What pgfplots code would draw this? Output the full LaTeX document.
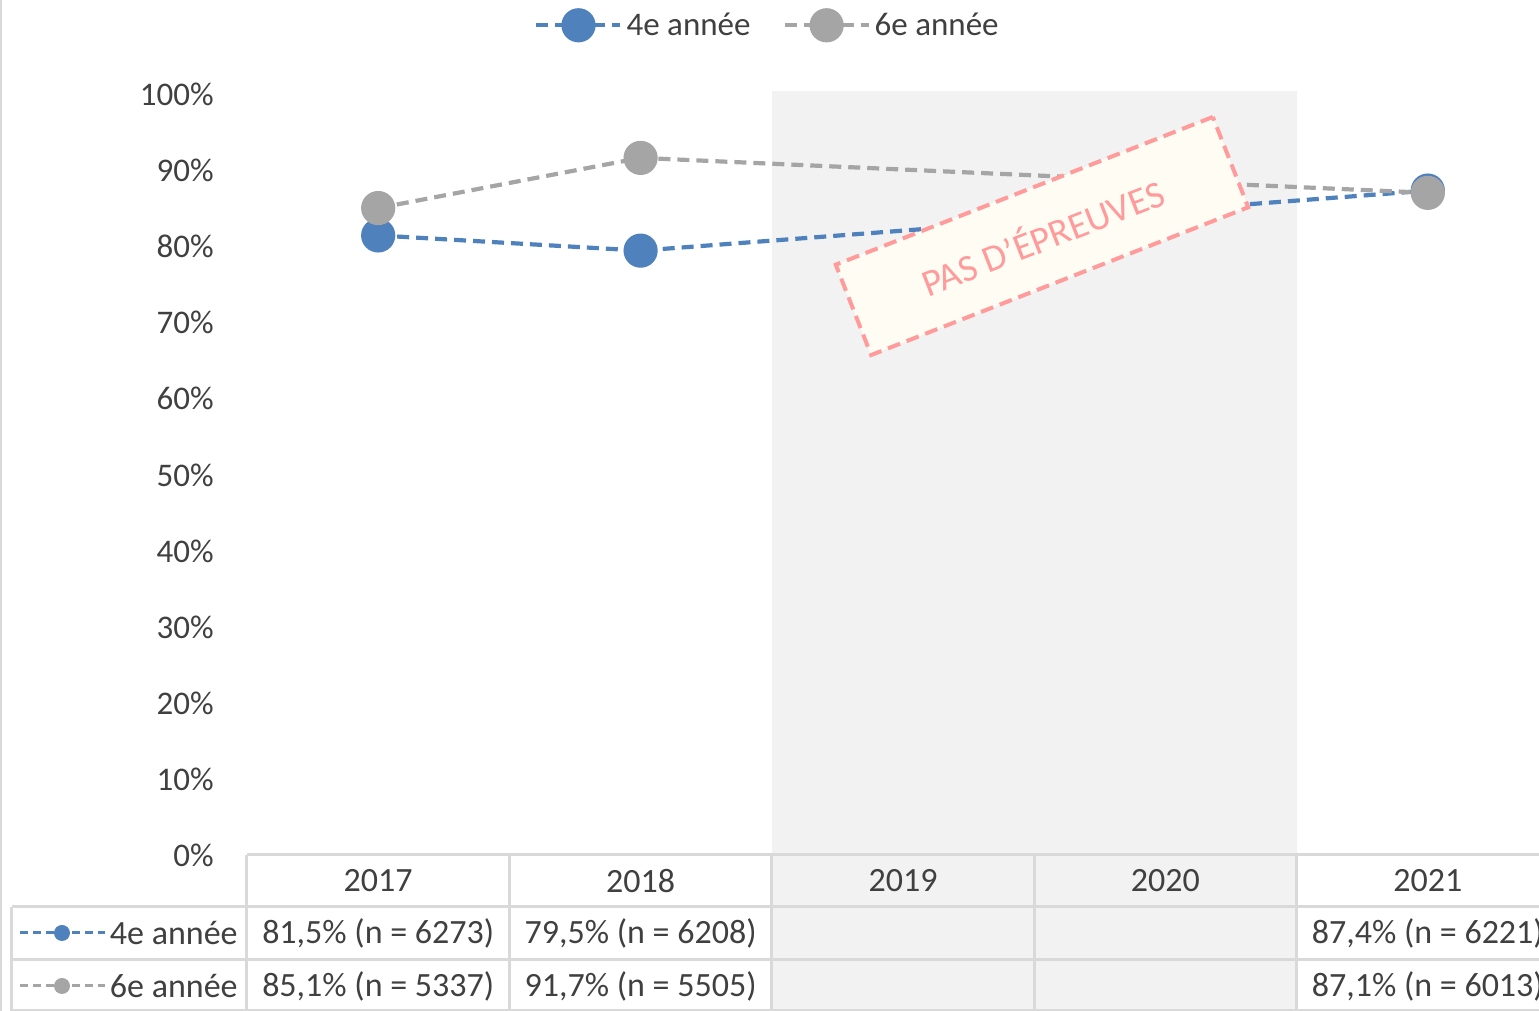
\documentclass[border=0pt]{standalone}
\usepackage{fontspec}
\setmainfont{Carlito}
\usepackage{pgfplots}
\pgfplotsset{compat=1.18}
\definecolor{bleu}{HTML}{4F81BD}
\definecolor{gris}{HTML}{A5A5A5}
\definecolor{grille}{HTML}{D9D9D9}
\definecolor{bande}{HTML}{F2F2F2}
\definecolor{rose}{HTML}{FF9B9B}
\definecolor{ivoire}{HTML}{FFFCF4}
\definecolor{texte}{HTML}{404040}

\begin{document}
\begin{tikzpicture}[font=\fontsize{16.5}{19}\selectfont]
\useasboundingbox (-123.5pt,-78pt) rectangle (646pt,427.5pt);
% bande grise 2019-2020
\fill[bande] (262.4pt,-78pt) rectangle (524.8pt,382pt);
\draw[grille, line width=0.8pt] (-123.1pt,-78pt) -- (-123.1pt,427.5pt);
\begin{axis}[
  at={(0,0)}, anchor=south west,
  scale only axis, width=656pt, height=382pt,
  xmin=-0.5, xmax=4.5, ymin=0, ymax=100.5,
  axis line style={draw=none},
  xtick=\empty,
  ytick={0,10,...,100},
  yticklabels={0\%,10\%,20\%,30\%,40\%,50\%,60\%,70\%,80\%,90\%,100\%},
  yticklabel style={anchor=east, inner sep=0pt, xshift=-16.5pt, text=texte,
    font=\fontsize{16.5}{19}\selectfont},
  major tick length=0pt,
  clip=false,
  legend columns=2,
  legend style={at={(0.3975,1.086)}, anchor=center, draw=none, fill=none,
    font=\fontsize{16.5}{19}\selectfont, text=texte,
    /tikz/every even column/.append style={column sep=14pt}},
  legend cell align=left,
  legend image code/.code={\draw[#1, mark repeat=2, mark phase=2]
    plot coordinates {(0pt,0pt)(21pt,0pt)(42pt,0pt)};},
]
\addplot[bleu, line width=2.1pt, dash pattern=on 6pt off 3.5pt,
  mark=*, mark size=7.5pt, mark options={solid, fill=bleu, draw=bleu}]
  coordinates {(0,81.5)(1,79.5)(4,87.4)};
\addlegendentry{4e année}
\addplot[gris, line width=2.1pt, dash pattern=on 6pt off 3.5pt,
  mark=*, mark size=7.5pt, mark options={solid, fill=gris, draw=gris}]
  coordinates {(0,85.1)(1,91.7)(4,87.1)};
\addlegendentry{6e année}
\end{axis}

% tampon
\node[rotate=21.4, draw=rose, fill=ivoire, line width=2pt,
  dash pattern=on 6.5pt off 3.5pt, minimum width=202.5pt, minimum height=48.5pt,
  text=rose, font=\fontsize{19}{22}\selectfont] at (397.5pt,309.5pt) {PAS D’ÉPREUVES};

% tableau de données
\begin{scope}[grille, line width=1.5pt]
  \draw (0pt,0pt) -- (670pt,0pt);
  \draw (-117.5pt,-26pt) -- (670pt,-26pt);
  \draw (-117.5pt,-52.5pt) -- (670pt,-52.5pt);
  \draw (-117.5pt,-77.6pt) -- (670pt,-77.6pt);
  \draw (-117.5pt,-26pt) -- (-117.5pt,-78pt);
  \foreach \x in {0,131.2,262.4,393.6,524.8}
    \draw (\x pt,0pt) -- (\x pt,-78pt);
\end{scope}
\begin{scope}[font=\fontsize{17}{20}\selectfont]
\foreach \x/\a in {65.6/2017,196.8/2018,328/2019,459.2/2020,590.4/2021}
  \node[text=texte] at (\x pt,-13pt) {\a};
\foreach \x/\v in {65.6/{81,5\% (n = 6273)},196.8/{79,5\% (n = 6208)},590.4/{87,4\% (n = 6221)}}
  \node[text=texte] at (\x pt,-39pt) {\v};
\foreach \x/\v in {65.6/{85,1\% (n = 5337)},196.8/{91,7\% (n = 5505)},590.4/{87,1\% (n = 6013)}}
  \node[text=texte] at (\x pt,-65.5pt) {\v};
\draw[bleu, line width=1.5pt, dash pattern=on 4pt off 2.5pt] (-113.5pt,-39pt) -- (-71pt,-39pt);
\fill[bleu] (-92.5pt,-39pt) circle (4pt);
\node[anchor=east, text=texte, inner sep=0pt] at (-4.5pt,-39pt) {4e année};
\draw[gris, line width=1.5pt, dash pattern=on 4pt off 2.5pt] (-113.5pt,-65.5pt) -- (-71pt,-65.5pt);
\fill[gris] (-92.5pt,-65.5pt) circle (4pt);
\node[anchor=east, text=texte, inner sep=0pt] at (-4.5pt,-65.5pt) {6e année};
\end{scope}
\end{tikzpicture}
\end{document}
